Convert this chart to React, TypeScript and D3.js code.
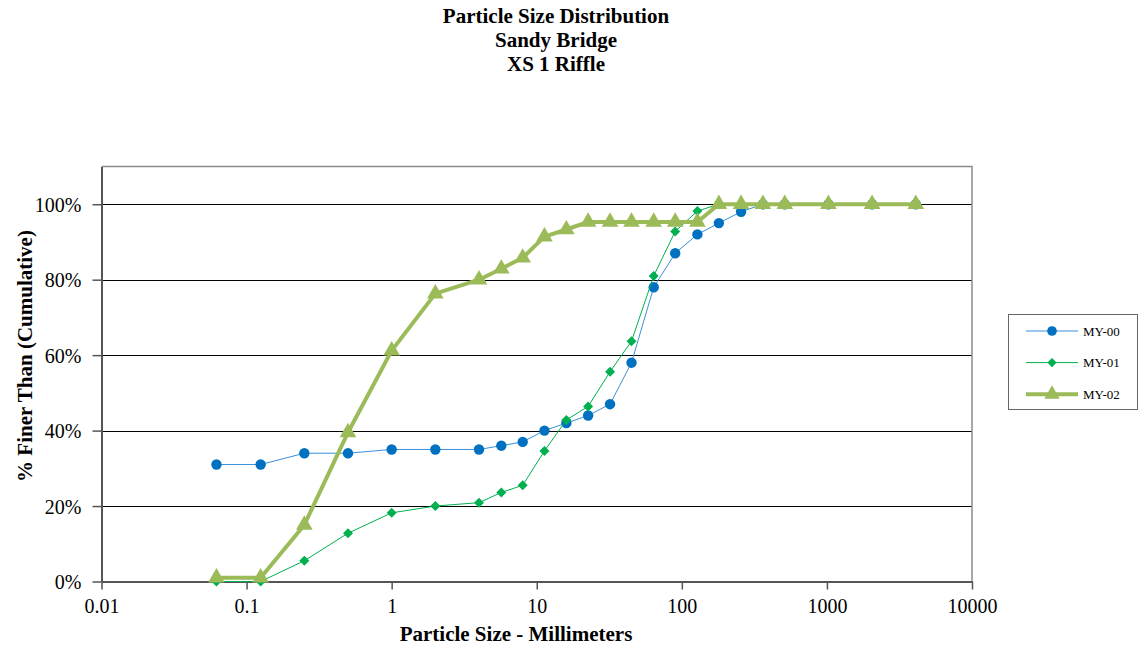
import React, { useEffect, useRef } from "react";
import * as d3 from "d3";

// sieve sizes (mm)
const sizes = [
  0.062, 0.125, 0.25, 0.5, 1, 2, 4, 5.7, 8, 11.3, 16, 22.6, 32, 45, 64, 90,
  128, 180, 256, 362, 512, 1024, 2048, 4096,
];

const my00 = [
  31, 31, 34, 34, 35, 35, 35, 36, 37, 40, 42, 44, 47, 58, 78, 87, 92, 95, 98,
  100, 100, 100, 100, 100,
];
const my01 = [
  0, 0, 5.5, 12.8, 18.2, 20, 20.9, 23.6, 25.5, 34.6, 42.8, 46.4, 55.6, 63.7,
  81, 92.8, 98.2, 100, 100, 100, 100, 100, 100, 100,
];
const my02 = [
  1, 1, 15, 39.5, 61.2, 76.3, 80, 82.9, 85.8, 91.4, 93.3, 95.3, 95.3, 95.3,
  95.3, 95.3, 95.3, 100, 100, 100, 100, 100, 100, 100,
];

const seriesNames = ["MY-00", "MY-01", "MY-02"];
const xTicks = [0.01, 0.1, 1, 10, 100, 1000, 10000];
const yTicks = [0, 20, 40, 60, 80, 100];
const titleLines = ["Particle Size Distribution", "Sandy Bridge", "XS 1 Riffle"];

// Excel-style diamond: a square turned 45 degrees
const diamond = {
  draw(ctx: any, size: number) {
    const r = Math.sqrt(size / 2);
    ctx.moveTo(0, -r);
    ctx.lineTo(r, 0);
    ctx.lineTo(0, r);
    ctx.lineTo(-r, 0);
    ctx.closePath();
  },
};

const App: React.FC = () => {
  const svgRef = useRef<SVGSVGElement | null>(null);

  useEffect(() => {
    if (!svgRef.current) return;
    const svg = d3.select(svgRef.current);
    svg.selectAll("*").remove();

    const width = 1138;
    const height = 650;
    const left = 101.5;
    const right = 972;
    const top = 166.5;
    const bottom = 581.5;
    const serif = "'Liberation Serif', 'Times New Roman', serif";

    svg.attr("width", width).attr("height", height);
    svg.append("rect").attr("width", width).attr("height", height).attr("fill", "#fff");

    const x = d3.scaleLog().domain([0.01, 10000]).range([left, right]);
    const y = d3.scaleLinear().domain([0, 110]).range([bottom, top]);

    // title
    svg
      .append("g")
      .selectAll("text")
      .data(titleLines)
      .enter()
      .append("text")
      .attr("x", 556)
      .attr("y", (_, i) => 23 + i * 24)
      .attr("text-anchor", "middle")
      .attr("font-family", serif)
      .attr("font-weight", "bold")
      .attr("font-size", 21)
      .text((d) => d);

    // gridlines
    svg
      .append("g")
      .selectAll("line")
      .data(yTicks.filter((t) => t > 0))
      .enter()
      .append("line")
      .attr("x1", left)
      .attr("x2", right)
      .attr("y1", (d) => Math.round(y(d)) + 0.5)
      .attr("y2", (d) => Math.round(y(d)) + 0.5)
      .attr("stroke", "#000")
      .attr("stroke-width", 1);

    // frame
    svg
      .append("path")
      .attr("d", `M${left},${top}H${right}V${bottom}`)
      .attr("fill", "none")
      .attr("stroke", "#8c8c8c")
      .attr("stroke-width", 1.5);

    // axes
    const yAxis = svg
      .append("g")
      .attr("transform", `translate(${left},0)`)
      .call(
        d3
          .axisLeft(y)
          .tickValues(yTicks)
          .tickSize(9)
          .tickSizeOuter(0)
          .tickPadding(11)
          .tickFormat((d) => `${d}%`)
      );
    const xAxis = svg
      .append("g")
      .attr("transform", `translate(0,${bottom})`)
      .call(
        d3
          .axisBottom(x)
          .tickValues(xTicks)
          .tickSize(8)
          .tickSizeOuter(0)
          .tickPadding(9)
          .tickFormat((d) => String(d))
      );
    [yAxis, xAxis].forEach((a) => {
      a.select(".domain").attr("stroke", "#555").attr("stroke-width", 2);
      a.selectAll(".tick line").attr("stroke", "#555").attr("stroke-width", 1.5);
      a.selectAll(".tick text")
        .attr("font-family", serif)
        .attr("font-size", 20)
        .attr("fill", "#000");
    });
    yAxis.selectAll(".tick text").attr("dy", "0.35em");

    // axis titles
    svg
      .append("text")
      .attr("x", 516)
      .attr("y", 641)
      .attr("text-anchor", "middle")
      .attr("font-family", serif)
      .attr("font-weight", "bold")
      .attr("font-size", 21)
      .text("Particle Size - Millimeters");
    svg
      .append("text")
      .attr("transform", `translate(32,356) rotate(-90)`)
      .attr("text-anchor", "middle")
      .attr("font-family", serif)
      .attr("font-weight", "bold")
      .attr("font-size", 21)
      .text("% Finer Than (Cumulative)");

    const line = d3
      .line<[number, number]>()
      .x((d) => x(d[0]))
      .y((d) => y(d[1]));

    const series = [
      { name: seriesNames[0], values: my00, color: "#0070C0", lineColor: "#3a8fd6", width: 1, marker: d3.symbolCircle, size: 85 },
      { name: seriesNames[1], values: my01, color: "#00B050", lineColor: "#00B050", width: 1, marker: diamond, size: 50 },
      { name: seriesNames[2], values: my02, color: "#9BBB59", lineColor: "#9BBB59", width: 4, marker: d3.symbolTriangle, size: 120 },
    ];

    series.forEach((s) => {
      const pts: [number, number][] = sizes.map((v, i) => [v, s.values[i]]);
      const g = svg.append("g");
      g.append("path")
        .attr("d", line(pts) || "")
        .attr("fill", "none")
        .attr("stroke", s.lineColor)
        .attr("stroke-width", s.width)
        .attr("stroke-linejoin", "round");
      g.selectAll("path.m")
        .data(pts)
        .enter()
        .append("path")
        .attr("class", "m")
        .attr("d", d3.symbol().type(s.marker as any).size(s.size)() || "")
        .attr("transform", (d) => `translate(${x(d[0])},${y(d[1])})`)
        .attr("fill", s.color);
    });

    // legend
    const lg = svg.append("g");
    lg.append("rect")
      .attr("x", 1008.5)
      .attr("y", 314.5)
      .attr("width", 129)
      .attr("height", 95)
      .attr("fill", "#fff")
      .attr("stroke", "#666")
      .attr("stroke-width", 1);
    series.forEach((s, i) => {
      const ly = 331 + i * 31.6;
      lg.append("line")
        .attr("x1", 1026)
        .attr("x2", 1078)
        .attr("y1", ly)
        .attr("y2", ly)
        .attr("stroke", s.lineColor)
        .attr("stroke-width", s.width);
      lg.append("path")
        .attr("d", d3.symbol().type(s.marker as any).size(s.size * 0.85)() || "")
        .attr("transform", `translate(1052,${ly})`)
        .attr("fill", s.color);
      lg.append("text")
        .attr("x", 1083)
        .attr("y", ly)
        .attr("dy", "0.35em")
        .attr("font-family", serif)
        .attr("font-size", 13)
        .text(s.name);
    });
  }, []);

  return <svg ref={svgRef} style={{ position: "absolute", left: 0, top: 0 }}></svg>;
};

export default App;
